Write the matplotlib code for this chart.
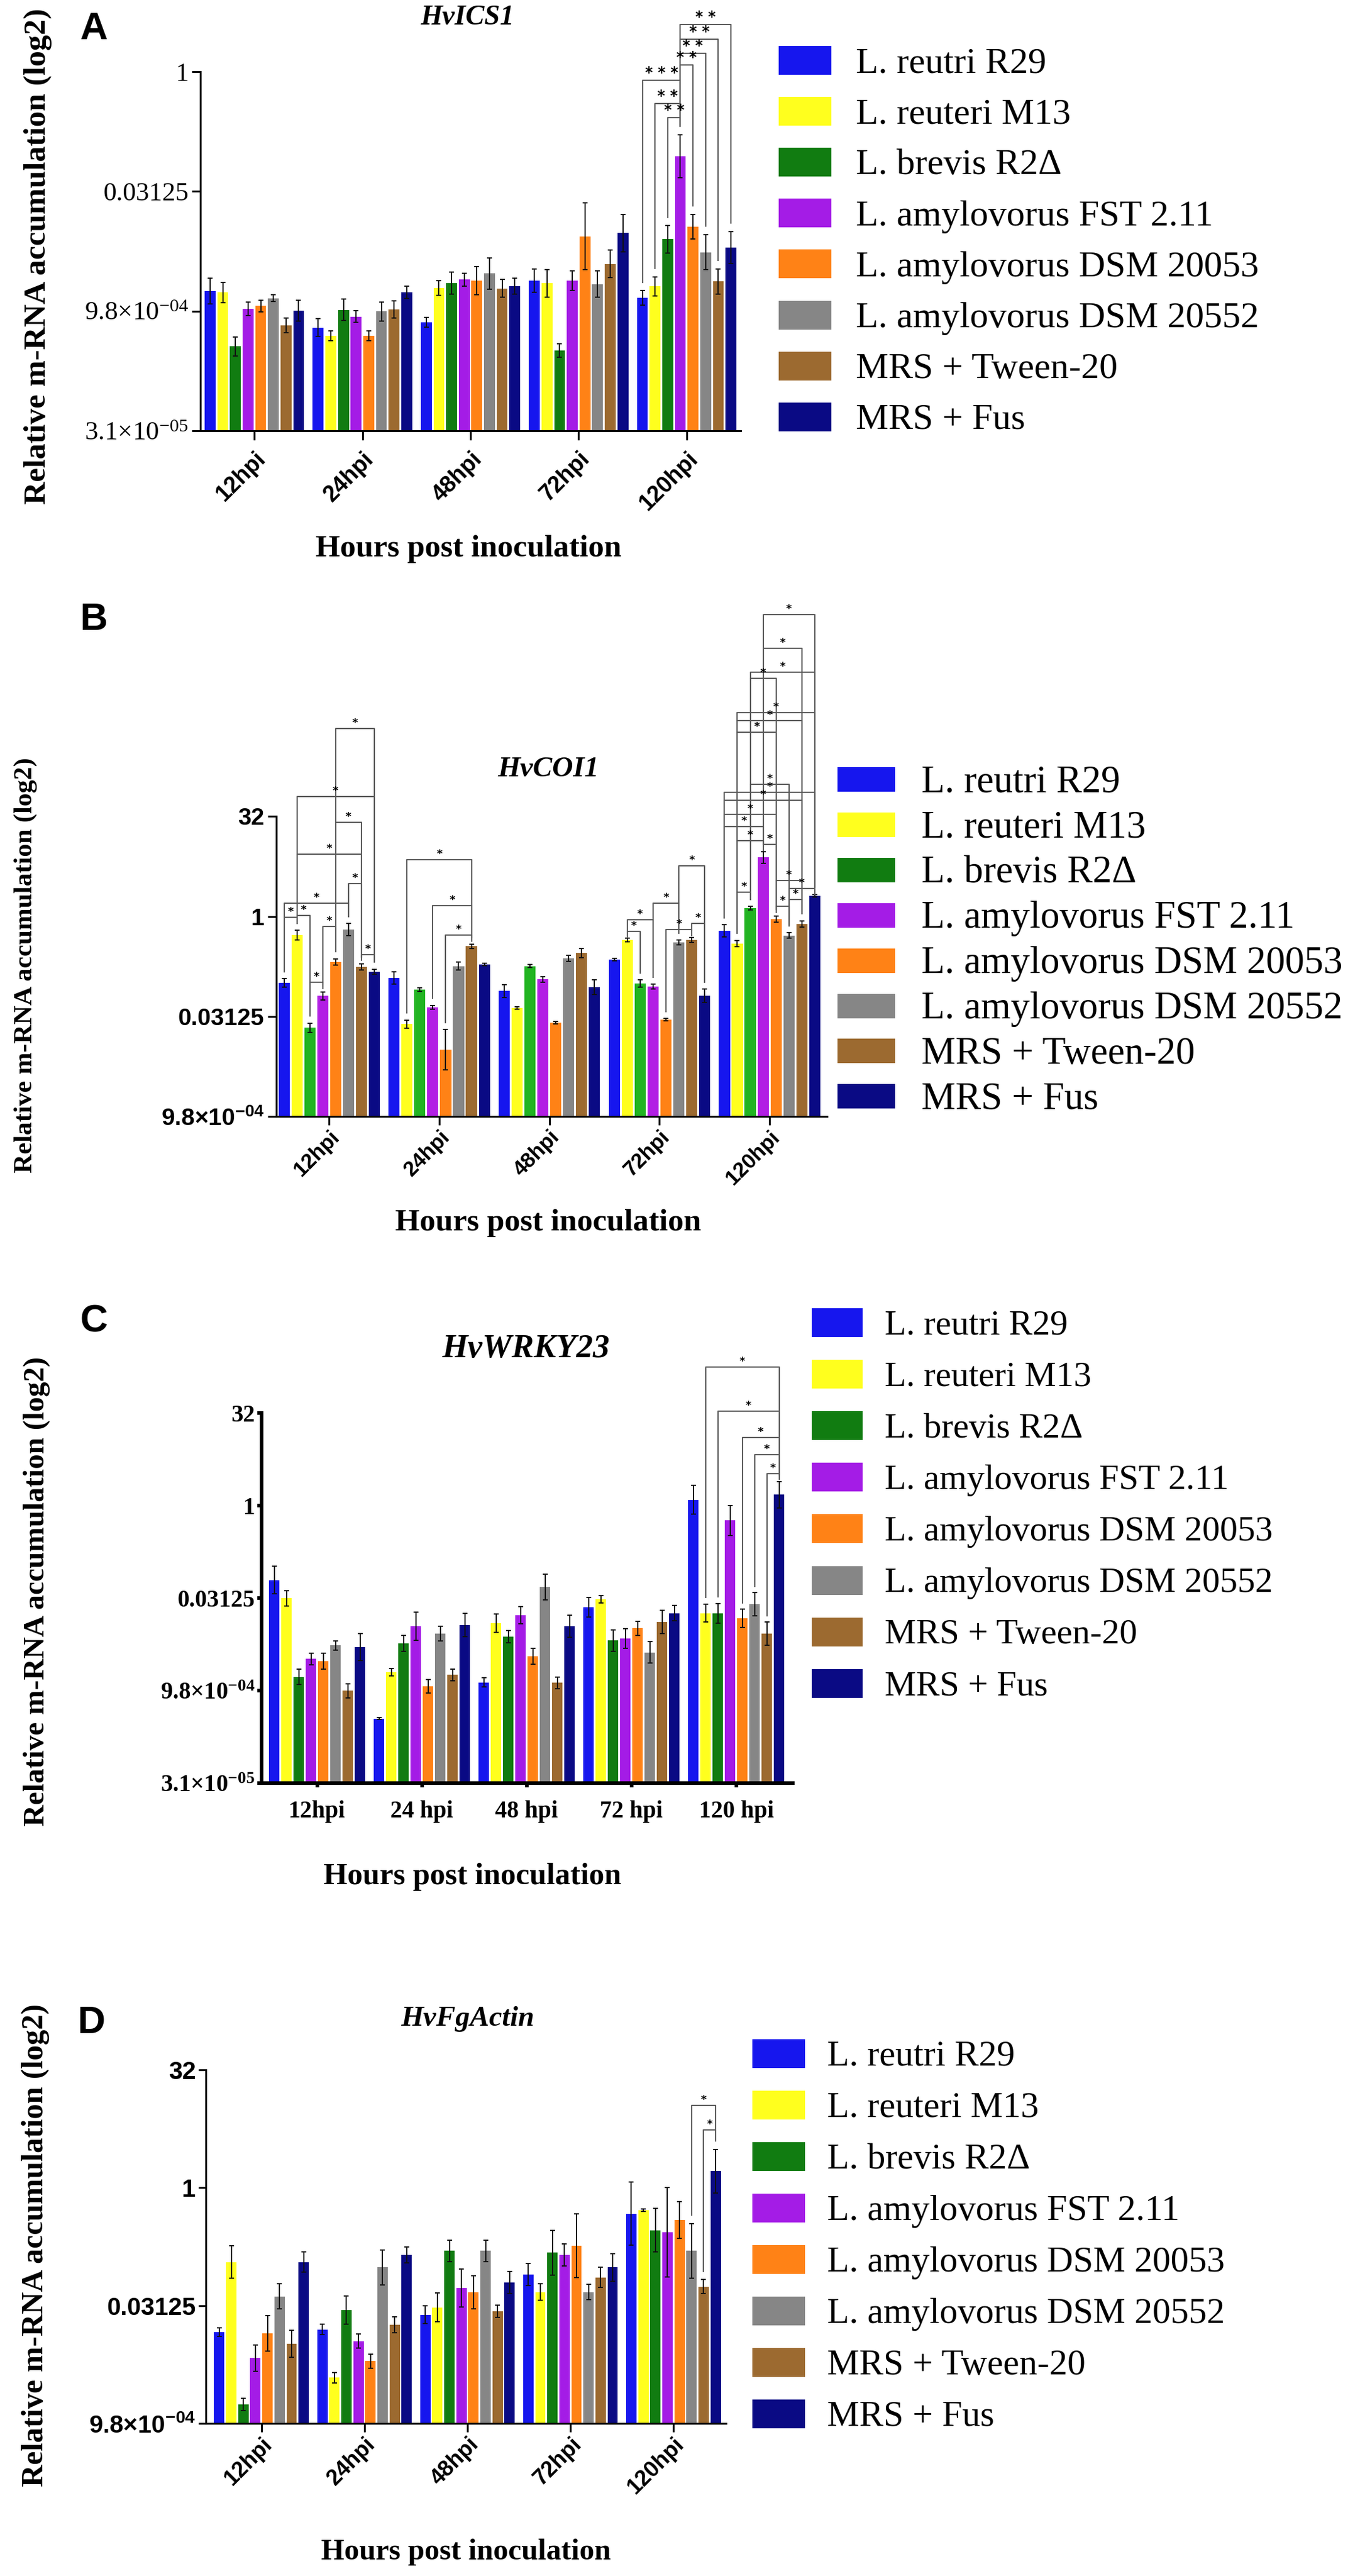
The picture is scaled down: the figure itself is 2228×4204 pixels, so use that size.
import numpy as np
import matplotlib.pyplot as plt
from matplotlib.patches import Rectangle

W, H = 2228, 4204
DPI = 100
plt.rcParams['font.family'] = ['Liberation Serif', 'DejaVu Serif']
plt.rcParams['mathtext.default'] = 'regular'

times = ['12hpi', '24hpi', '48hpi', '72hpi', '120hpi']
times_c = ['12hpi', '24 hpi', '48 hpi', '72 hpi', '120 hpi']
treatments = ['L. reutri R29', 'L. reuteri M13', 'L. brevis R2\u0394', 'L. amylovorus FST 2.11',
              'L. amylovorus DSM 20053', 'L. amylovorus DSM 20552', 'MRS + Tween-20', 'MRS + Fus']
colors = ['#1616EE', '#FFFF1E', '#117C11', '#A41CE6', '#FF8216', '#868686', '#9C6A30', '#0A0A84']
colors_b = ['#1616EE', '#FFFF1E', '#22B422', '#B21EE4', '#FF8216', '#868686', '#9C6A30', '#0A0A84']

# log2 relative m-RNA accumulation; rows = time points, columns = treatments
ics1_mean = [[-9.17, -9.22, -11.48, -9.90, -9.79, -9.46, -10.60, -9.98],
             [-10.69, -11.04, -9.95, -10.23, -11.04, -10.02, -9.93, -9.22],
             [-10.47, -9.04, -8.84, -8.69, -8.73, -8.43, -9.05, -8.96],
             [-8.73, -8.84, -11.65, -8.73, -6.88, -8.87, -8.03, -6.74],
             [-9.45, -8.97, -7.00, -3.54, -6.48, -7.54, -8.76, -7.34]]
ics1_err = [[0.54, 0.42, 0.40, 0.28, 0.25, 0.15, 0.30, 0.44],
            [0.37, 0.20, 0.45, 0.25, 0.20, 0.40, 0.36, 0.26],
            [0.20, 0.30, 0.46, 0.26, 0.60, 0.65, 0.37, 0.33],
            [0.49, 0.57, 0.28, 0.42, 1.39, 0.55, 0.57, 0.78],
            [0.30, 0.40, 0.57, 0.90, 0.52, 0.73, 0.52, 0.67]]
ics1_sig = [(4, 0, 3, -0.36, '* * *'), (4, 1, 3, -1.34, '* *'), (4, 2, 3, -1.91, '* *'),
            (4, 3, 7, 1.97, '* *'), (4, 3, 6, 1.35, '* *'), (4, 3, 5, 0.78, '* *'),
            (4, 3, 4, 0.29, '* *')]

coi1_mean = [[-3.32, -0.94, -5.57, -3.97, -2.27, -0.65, -2.52, -2.76],
             [-3.08, -5.38, -3.66, -4.55, -6.66, -2.49, -1.49, -2.41],
             [-3.73, -4.58, -2.49, -3.15, -5.32, -2.09, -1.82, -3.54],
             [-2.15, -1.17, -3.35, -3.50, -5.16, -1.31, -1.17, -3.97],
             [-0.72, -1.35, 0.41, 2.95, -0.14, -0.95, -0.37, 1.04]]
coi1_err = [[0.20, 0.25, 0.23, 0.20, 0.15, 0.30, 0.15, 0.12],
            [0.30, 0.20, 0.10, 0.10, 1.00, 0.20, 0.10, 0.06],
            [0.33, 0.06, 0.08, 0.15, 0.06, 0.15, 0.23, 0.37],
            [0.06, 0.10, 0.18, 0.12, 0.06, 0.12, 0.12, 0.33],
            [0.30, 0.15, 0.10, 0.30, 0.15, 0.13, 0.15, 0.06]]
coi1_sig = [(0, 4, 7, 9.4, '*'), (0, 1, 7, 6.0, '*'), (0, 4, 6, 4.7, '*'), (0, 1, 6, 3.1, '*'),
            (0, 5, 6, 1.64, '*'), (0, 0, 5, 0.65, '*'), (0, 1, 2, 0.06, '*'), (0, 0, 1, -0.05, '*'),
            (0, 3, 4, -0.5, '*'), (0, 6, 7, -1.9, '*'), (0, 2, 3, -3.3, '*'),
            (1, 1, 6, 2.84, '*'), (1, 3, 6, 0.55, '*'), (1, 4, 6, -0.94, '*'),
            (3, 5, 7, 2.52, '*'), (3, 3, 5, 0.65, '*'), (3, 1, 3, -0.18, '*'), (3, 6, 7, -0.35, '*'),
            (3, 4, 6, -0.65, '*'), (3, 1, 2, -0.76, '*'),
            (4, 3, 7, 15.1, '*'), (4, 3, 6, 13.4, '*'), (4, 2, 7, 12.2, '*'), (4, 2, 4, 11.9, '*'),
            (4, 1, 7, 10.2, '*'), (4, 1, 6, 9.8, '*'), (4, 1, 4, 9.2, '*'), (4, 2, 5, 6.6, '*'),
            (4, 0, 7, 6.2, '*'), (4, 0, 6, 5.8, '*'), (4, 0, 4, 5.1, '*'), (4, 0, 3, 4.5, '*'),
            (4, 1, 3, 3.8, '*'), (4, 3, 4, 3.6, '*'), (4, 4, 6, 1.8, '*'), (4, 5, 7, 1.4, '*'),
            (4, 1, 2, 1.2, '*'), (4, 5, 6, 0.86, '*'), (4, 4, 5, 0.5, '*')]

wrky23_mean = [[-4.02, -5.01, -9.26, -8.29, -8.41, -7.55, -10.00, -7.65],
               [-11.52, -8.99, -7.44, -6.51, -9.77, -6.91, -9.15, -6.45],
               [-9.56, -6.34, -7.08, -5.92, -8.14, -4.40, -9.58, -6.51],
               [-5.50, -5.07, -7.29, -7.19, -6.62, -7.93, -6.30, -5.81],
               [0.32, -5.81, -5.81, -0.80, -6.09, -5.33, -6.93, 0.59]]
wrky23_err = [[0.74, 0.40, 0.42, 0.30, 0.42, 0.25, 0.38, 0.72],
              [0.05, 0.20, 0.42, 0.76, 0.36, 0.40, 0.32, 0.63],
              [0.25, 0.50, 0.32, 0.47, 0.42, 0.70, 0.32, 0.59],
              [0.53, 0.20, 0.57, 0.53, 0.38, 0.57, 0.63, 0.42],
              [0.78, 0.49, 0.53, 0.80, 0.49, 0.63, 0.63, 0.72]]
wrky23_sig = [(4, 1, 7, 7.5, '*'), (4, 2, 7, 5.1, '*'), (4, 4, 7, 3.7, '*'),
              (4, 5, 7, 2.75, '*'), (4, 6, 7, 1.73, '*')]

actin_mean = [[-6.13, -3.15, -9.19, -7.22, -6.18, -4.61, -6.62, -3.15],
              [-6.01, -8.06, -5.20, -6.51, -7.36, -3.38, -5.81, -2.85],
              [-5.39, -5.08, -2.68, -4.26, -4.43, -2.68, -5.25, -4.03],
              [-3.68, -4.43, -2.75, -2.85, -2.45, -4.43, -3.80, -3.38],
              [-1.10, -0.96, -1.80, -1.89, -1.37, -2.68, -4.20, 0.70]]
actin_err = [[0.18, 0.70, 0.26, 0.56, 0.75, 0.53, 0.58, 0.44],
             [0.23, 0.23, 0.60, 0.30, 0.30, 0.75, 0.33, 0.35],
             [0.37, 0.61, 0.46, 0.80, 0.70, 0.46, 0.26, 0.47],
             [0.47, 0.35, 0.95, 0.46, 1.35, 0.32, 0.42, 0.58],
             [1.33, 0.05, 0.93, 1.89, 0.79, 1.16, 0.30, 0.93]]
actin_sig = [(4, 5, 7, 3.5, '*'), (4, 6, 7, 2.45, '*')]

yt_15 = [-15, -10, -5, 0]
yl_15 = ['3.1\u00d710$^{-05}$', '9.8\u00d710$^{-04}$', '0.03125', '1']
yt_10 = [-10, -5, 0, 5]
yl_10 = ['9.8\u00d710$^{-04}$', '0.03125', '1', '32']
yt_c = [-15, -10, -5, 0, 5]
yl_c = ['3.1\u00d710$^{-05}$', '9.8\u00d710$^{-04}$', '0.03125', '1', '32']

fig = plt.figure(figsize=(W / DPI, H / DPI), dpi=DPI)


def fx(px):
    return px / W


def fy(py):
    return 1 - py / H


SLOT = 0.117


def panel(left, right, xlim, bottom, zero, unit, ylim, means, errs, sig, bar_colors,
          yt, yl, xl, tickfont, tickfs, rot, spine_lw, ticklen, xpad, ypad, star_fs):
    top = zero - ylim[1] * unit
    ax = fig.add_axes([fx(left), fy(bottom), (right - left) / W, (bottom - top) / H])
    ax.set_xlim(*xlim)
    ax.set_ylim(*ylim)
    m = np.array(means)
    e = np.array(errs)
    base = ylim[0]
    xg = np.arange(len(times))
    for j in range(8):
        xs = xg + (j - 3.5) * SLOT
        ax.bar(xs, m[:, j] - base, bottom=base, width=SLOT * 0.86, color=bar_colors[j],
               linewidth=0)
        ax.errorbar(xs, m[:, j], yerr=e[:, j], fmt='none', ecolor='#111111',
                    elinewidth=1.4, capsize=3, capthick=1.4)
    gap, minleg = 0.35, 0.3
    for g, i, j, level, label in sig:
        xi = g + (i - 3.5) * SLOT
        xj = g + (j - 3.5) * SLOT
        lo_i = min(m[g, i] + e[g, i] + gap, level - minleg)
        lo_j = min(m[g, j] + e[g, j] + gap, level - minleg)
        ax.plot([xi, xi, xj, xj], [lo_i, level, level, lo_j], color='#5a5a5a',
                lw=1.5, clip_on=False)
        ax.text((xi + xj) / 2, level, label, ha='center', va='bottom', fontsize=star_fs,
                fontweight='bold', family='DejaVu Sans')
    for s in ['top', 'right']:
        ax.spines[s].set_visible(False)
    ax.spines['left'].set_bounds(yt[0], yt[-1])
    ax.spines['left'].set_linewidth(spine_lw)
    ax.spines['bottom'].set_linewidth(spine_lw)
    ax.set_yticks(yt)
    ax.set_yticklabels(yl, family=tickfont[0], fontweight=tickfont[1], fontsize=tickfs[0])
    ax.set_xticks(xg)
    if rot:
        ax.set_xticklabels(xl, rotation=45, ha='right', va='top', rotation_mode='anchor',
                           family='Liberation Sans', fontweight='bold', fontsize=tickfs[1])
    else:
        ax.set_xticklabels(xl, family='Liberation Serif', fontweight='bold', fontsize=tickfs[1])
    ax.tick_params(axis='y', length=ticklen[0], width=spine_lw, pad=ypad)
    ax.tick_params(axis='x', length=ticklen[1], width=spine_lw, pad=xpad)
    return ax


def legend(x0, y0, bw, bh, pitch, tx, fs):
    cap = 0.66 * fs / 72 * DPI
    for i, (name, c) in enumerate(zip(treatments, colors)):
        t = y0 + i * pitch
        fig.add_artist(Rectangle((fx(x0), fy(t + bh)), bw / W, bh / H,
                                 transform=fig.transFigure, color=c, lw=0))
        fig.text(fx(tx), fy(t + bh / 2 + cap / 2), name, fontsize=fs, ha='left',
                 va='baseline')


def labels(letter, lxy, title, txy, tfs, ylab, yxy, yfs, xlab_xy, xfs):
    fig.text(fx(lxy[0]), fy(lxy[1]), letter, fontsize=45, fontweight='bold',
             family='Liberation Sans', ha='center', va='center')
    fig.text(fx(txy[0]), fy(txy[1]), title, fontsize=tfs, fontweight='bold',
             style='italic', ha='center', va='center')
    fig.text(fx(yxy[0]), fy(yxy[1]), ylab, fontsize=yfs, fontweight='bold',
             rotation=90, ha='center', va='center')
    fig.text(fx(xlab_xy[0]), fy(xlab_xy[1]), 'Hours post inoculation', fontsize=xfs,
             fontweight='bold', ha='center', va='center')


ylab = 'Relative m-RNA accumulation (log2)'

# A
panel(327, 1209, (-0.5, 4.5), 703, 117, 39.07, (-15, 2.9), ics1_mean, ics1_err, ics1_sig,
      colors, yt_15, yl_15, times, ('Liberation Serif', 'normal'), (31, 27), True,
      2.2, (10, 11), 9, 4, 17)
labels('A', (153, 48), 'HvICS1', (763, 29), 33, ylab, (62, 418), 37, (765, 896), 37)
legend(1271, 75, 86, 47, 83.1, 1397, 43)

# B
panel(451, 1349.5, (-0.48, 4.52), 1822, 1495, 32.6, (-10, 16), coi1_mean, coi1_err, coi1_sig,
      colors_b, yt_10, yl_10, times, ('Liberation Sans', 'bold'), (28, 25), True,
      2.2, (10, 10), 2, 4, 13)
labels('B', (153, 1012), 'HvCOI1', (895, 1256), 34, ylab, (42, 1575), 31, (895, 1996), 37)
legend(1367, 1252, 94, 40, 73.9, 1504, 45)

# C
panel(427, 1294, (-0.53, 4.54), 2910, 2457, 30.15, (-15, 8.7), wrky23_mean, wrky23_err,
      wrky23_sig, colors, yt_c, yl_c, times_c, ('Liberation Serif', 'bold'), (28, 28), False,
      4.2, (5, 5), 15, 3, 13)
labels('C', (153, 2157), 'HvWRKY23', (858, 2202), 39, ylab, (60, 2597), 35, (771, 3063), 36)
legend(1325, 2135, 83, 47, 84.1, 1444, 41.5)

# D
panel(336, 1185, (-0.54, 4.51), 3955, 3570, 38.4, (-10, 5.2), actin_mean, actin_err,
      actin_sig, colors, yt_10, yl_10, times, ('Liberation Sans', 'bold'), (29, 26), True,
      2.2, (9, 10), 2, 3, 13)
labels('D', (149, 3301), 'HvFgActin', (763, 3295), 34, ylab, (58, 3664), 36, (761, 4165), 35)
legend(1228, 3328, 86, 47, 84, 1350, 42.5)

fig.savefig('out.png', dpi=DPI)
